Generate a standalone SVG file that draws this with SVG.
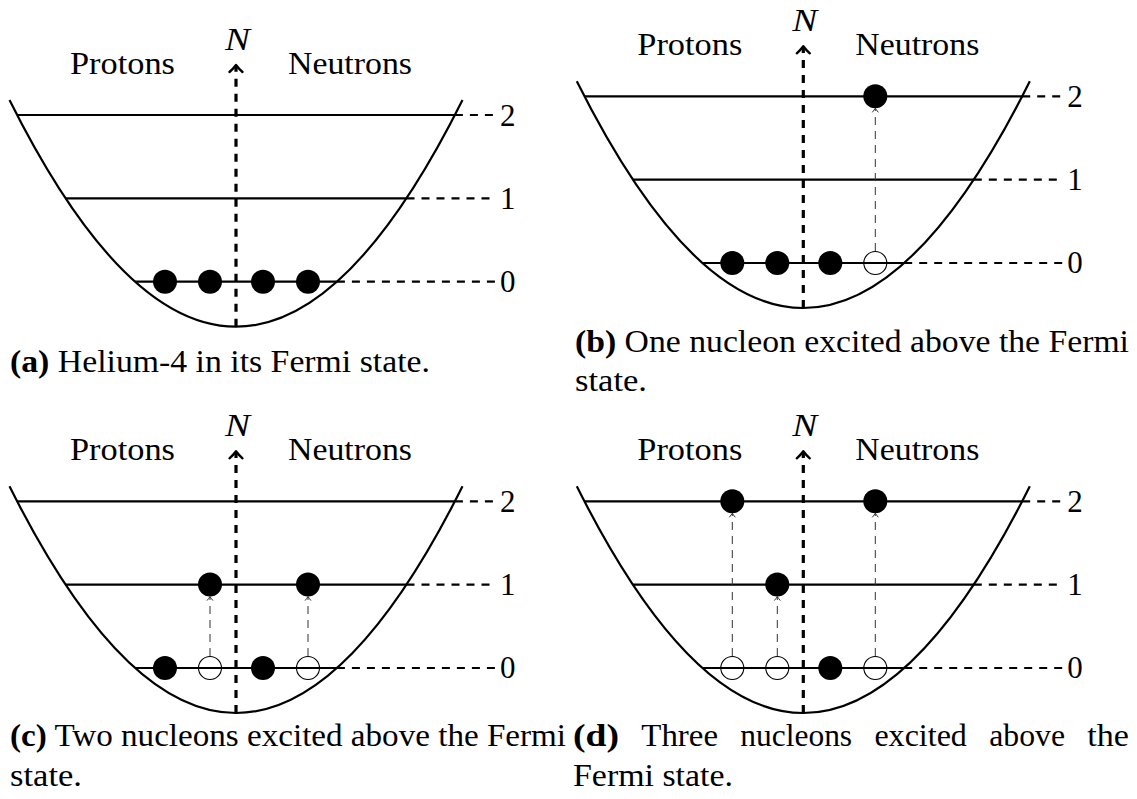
<svg xmlns="http://www.w3.org/2000/svg" width="1137" height="799" viewBox="0 0 1137 799" font-family="Liberation Serif, DejaVu Serif, serif" font-size="31">
<style>
.para{fill:none;stroke:#000;stroke-width:2.2}
.lvl{stroke:#000;stroke-width:2.2}
.lvd{stroke:#000;stroke-width:2.2;stroke-dasharray:8 7}
.axis{stroke:#000;stroke-width:3.2;stroke-dasharray:8 7}
.ah{fill:none;stroke:#000;stroke-width:2.4;stroke-linecap:round;stroke-linejoin:round}
.tr{stroke:#333;stroke-width:1;stroke-dasharray:8 6}
.tah{fill:none;stroke:#333;stroke-width:1}
.full{fill:#000}
.hole{fill:none;stroke:#000;stroke-width:1.1}
.it{font-style:italic}
.b{font-weight:bold}
</style>
<rect width="1137" height="799" fill="#fff"/>

<!-- Panel (a) -->
<g id="panel-a">
  <g id="a-well">
    <path class="para" d="M9.5,100 Q236,553.4 462.5,100"/>
    <line class="lvl" x1="135.1" y1="281.7" x2="336.9" y2="281.7"/>
    <line class="lvl" x1="65.5" y1="198.3" x2="406.5" y2="198.3"/>
    <line class="lvl" x1="17.1" y1="115" x2="454.9" y2="115"/>
    <line class="lvd" x1="336.9" y1="281.7" x2="495" y2="281.7"/>
    <line class="lvd" x1="406.5" y1="198.3" x2="495" y2="198.3"/>
    <line class="lvd" x1="454.9" y1="115" x2="495" y2="115"/>
    <text x="500" y="292.2">0</text>
    <text x="500" y="208.8">1</text>
    <text x="500" y="125.5">2</text>
  </g>
  <g id="a-axis">
    <line class="axis" x1="236" y1="326.7" x2="236" y2="67"/>
    <path class="ah" d="M229.5,72 Q233.5,68.5 236,65 Q238.5,68.5 242.5,72"/>
    <text class="it" x="225" y="50" textLength="25" lengthAdjust="spacingAndGlyphs">N</text>
  </g>
  <text x="70" y="74" textLength="105" lengthAdjust="spacingAndGlyphs">Protons</text>
  <text x="288" y="74" textLength="124" lengthAdjust="spacingAndGlyphs">Neutrons</text>
  <g id="a-nucleons">
    <circle class="full" cx="165" cy="281.7" r="12"/>
    <circle class="full" cx="210" cy="281.7" r="12"/>
    <circle class="full" cx="263" cy="281.7" r="12"/>
    <circle class="full" cx="308" cy="281.7" r="12"/>
  </g>
  <text x="10" y="372" textLength="420" lengthAdjust="spacingAndGlyphs"><tspan class="b">(a)</tspan> Helium-4 in its Fermi state.</text>
</g>

<!-- Panel (b) -->
<g id="panel-b" transform="translate(567.3,-18.7)">
  <g id="b-well">
    <path class="para" d="M9.5,100 Q236,553.4 462.5,100"/>
    <line class="lvl" x1="135.1" y1="281.7" x2="336.9" y2="281.7"/>
    <line class="lvl" x1="65.5" y1="198.3" x2="406.5" y2="198.3"/>
    <line class="lvl" x1="17.1" y1="115" x2="454.9" y2="115"/>
    <line class="lvd" x1="336.9" y1="281.7" x2="495" y2="281.7"/>
    <line class="lvd" x1="406.5" y1="198.3" x2="495" y2="198.3"/>
    <line class="lvd" x1="454.9" y1="115" x2="495" y2="115"/>
    <text x="500" y="292.2">0</text>
    <text x="500" y="208.8">1</text>
    <text x="500" y="125.5">2</text>
  </g>
  <g id="b-axis">
    <line class="axis" x1="236" y1="326.7" x2="236" y2="67"/>
    <path class="ah" d="M229.5,72 Q233.5,68.5 236,65 Q238.5,68.5 242.5,72"/>
    <text class="it" x="225" y="50" textLength="25" lengthAdjust="spacingAndGlyphs">N</text>
  </g>
  <text x="70" y="74" textLength="105" lengthAdjust="spacingAndGlyphs">Protons</text>
  <text x="288" y="74" textLength="124" lengthAdjust="spacingAndGlyphs">Neutrons</text>
  <g id="b-connectors">
    <line class="tr" x1="308" y1="269.7" x2="308" y2="127.5"/>
    <path class="tah" d="M305,131 Q307,128.5 308,127 Q309,128.5 311,131"/>
  </g>
  <g id="b-nucleons">
    <circle class="full" cx="165" cy="281.7" r="12"/>
    <circle class="full" cx="210" cy="281.7" r="12"/>
    <circle class="full" cx="263" cy="281.7" r="12"/>
    <circle class="hole" cx="308" cy="281.7" r="11.5"/>
    <circle class="full" cx="308" cy="115" r="12"/>
  </g>
</g>
<g id="caption-b">
  <text x="575" y="352" textLength="554" lengthAdjust="spacingAndGlyphs"><tspan class="b">(b)</tspan> One nucleon excited above the Fermi</text>
  <text x="575" y="391" textLength="72" lengthAdjust="spacingAndGlyphs">state.</text>
</g>

<!-- Panel (c) -->
<g id="panel-c" transform="translate(0,386.3)">
  <g id="c-well">
    <path class="para" d="M9.5,100 Q236,553.4 462.5,100"/>
    <line class="lvl" x1="135.1" y1="281.7" x2="336.9" y2="281.7"/>
    <line class="lvl" x1="65.5" y1="198.3" x2="406.5" y2="198.3"/>
    <line class="lvl" x1="17.1" y1="115" x2="454.9" y2="115"/>
    <line class="lvd" x1="336.9" y1="281.7" x2="495" y2="281.7"/>
    <line class="lvd" x1="406.5" y1="198.3" x2="495" y2="198.3"/>
    <line class="lvd" x1="454.9" y1="115" x2="495" y2="115"/>
    <text x="500" y="292.2">0</text>
    <text x="500" y="208.8">1</text>
    <text x="500" y="125.5">2</text>
  </g>
  <g id="c-axis">
    <line class="axis" x1="236" y1="326.7" x2="236" y2="67"/>
    <path class="ah" d="M229.5,72 Q233.5,68.5 236,65 Q238.5,68.5 242.5,72"/>
    <text class="it" x="225" y="50" textLength="25" lengthAdjust="spacingAndGlyphs">N</text>
  </g>
  <text x="70" y="74" textLength="105" lengthAdjust="spacingAndGlyphs">Protons</text>
  <text x="288" y="74" textLength="124" lengthAdjust="spacingAndGlyphs">Neutrons</text>
  <g id="c-connectors">
    <line class="tr" x1="210" y1="269.7" x2="210" y2="210.8"/>
    <path class="tah" d="M207,214.3 Q209,211.8 210,210.3 Q211,211.8 213,214.3"/>
    <line class="tr" x1="308" y1="269.7" x2="308" y2="210.8"/>
    <path class="tah" d="M305,214.3 Q307,211.8 308,210.3 Q309,211.8 311,214.3"/>
  </g>
  <g id="c-nucleons">
    <circle class="full" cx="165" cy="281.7" r="12"/>
    <circle class="hole" cx="210" cy="281.7" r="11.5"/>
    <circle class="full" cx="263" cy="281.7" r="12"/>
    <circle class="hole" cx="308" cy="281.7" r="11.5"/>
    <circle class="full" cx="210" cy="198.3" r="12"/>
    <circle class="full" cx="308" cy="198.3" r="12"/>
  </g>
</g>
<g id="caption-c">
  <text x="10" y="746" textLength="556" lengthAdjust="spacingAndGlyphs"><tspan class="b">(c)</tspan> Two nucleons excited above the Fermi</text>
  <text x="10" y="786" textLength="72" lengthAdjust="spacingAndGlyphs">state.</text>
</g>

<!-- Panel (d) -->
<g id="panel-d" transform="translate(567.3,386.3)">
  <g id="d-well">
    <path class="para" d="M9.5,100 Q236,553.4 462.5,100"/>
    <line class="lvl" x1="135.1" y1="281.7" x2="336.9" y2="281.7"/>
    <line class="lvl" x1="65.5" y1="198.3" x2="406.5" y2="198.3"/>
    <line class="lvl" x1="17.1" y1="115" x2="454.9" y2="115"/>
    <line class="lvd" x1="336.9" y1="281.7" x2="495" y2="281.7"/>
    <line class="lvd" x1="406.5" y1="198.3" x2="495" y2="198.3"/>
    <line class="lvd" x1="454.9" y1="115" x2="495" y2="115"/>
    <text x="500" y="292.2">0</text>
    <text x="500" y="208.8">1</text>
    <text x="500" y="125.5">2</text>
  </g>
  <g id="d-axis">
    <line class="axis" x1="236" y1="326.7" x2="236" y2="67"/>
    <path class="ah" d="M229.5,72 Q233.5,68.5 236,65 Q238.5,68.5 242.5,72"/>
    <text class="it" x="225" y="50" textLength="25" lengthAdjust="spacingAndGlyphs">N</text>
  </g>
  <text x="70" y="74" textLength="105" lengthAdjust="spacingAndGlyphs">Protons</text>
  <text x="288" y="74" textLength="124" lengthAdjust="spacingAndGlyphs">Neutrons</text>
  <g id="d-connectors">
    <line class="tr" x1="165" y1="269.7" x2="165" y2="127.5"/>
    <path class="tah" d="M162,131 Q164,128.5 165,127 Q166,128.5 168,131"/>
    <line class="tr" x1="210" y1="269.7" x2="210" y2="210.8"/>
    <path class="tah" d="M207,214.3 Q209,211.8 210,210.3 Q211,211.8 213,214.3"/>
    <line class="tr" x1="308" y1="269.7" x2="308" y2="127.5"/>
    <path class="tah" d="M305,131 Q307,128.5 308,127 Q309,128.5 311,131"/>
  </g>
  <g id="d-nucleons">
    <circle class="hole" cx="165" cy="281.7" r="11.5"/>
    <circle class="hole" cx="210" cy="281.7" r="11.5"/>
    <circle class="full" cx="263" cy="281.7" r="12"/>
    <circle class="hole" cx="308" cy="281.7" r="11.5"/>
    <circle class="full" cx="165" cy="115" r="12"/>
    <circle class="full" cx="210" cy="198.3" r="12"/>
    <circle class="full" cx="308" cy="115" r="12"/>
  </g>
</g>
<g id="caption-d">
  <text class="b" x="573" y="746" textLength="46" lengthAdjust="spacingAndGlyphs">(d)</text>
  <text x="641.3" y="746" textLength="76.7" lengthAdjust="spacingAndGlyphs">Three</text>
  <text x="740.3" y="746" textLength="111.8" lengthAdjust="spacingAndGlyphs">nucleons</text>
  <text x="874.4" y="746" textLength="92.5" lengthAdjust="spacingAndGlyphs">excited</text>
  <text x="989.2" y="746" textLength="75.8" lengthAdjust="spacingAndGlyphs">above</text>
  <text x="1087.3" y="746" textLength="41.7" lengthAdjust="spacingAndGlyphs">the</text>
  <text x="573" y="786" textLength="160" lengthAdjust="spacingAndGlyphs">Fermi state.</text>
</g>
</svg>
